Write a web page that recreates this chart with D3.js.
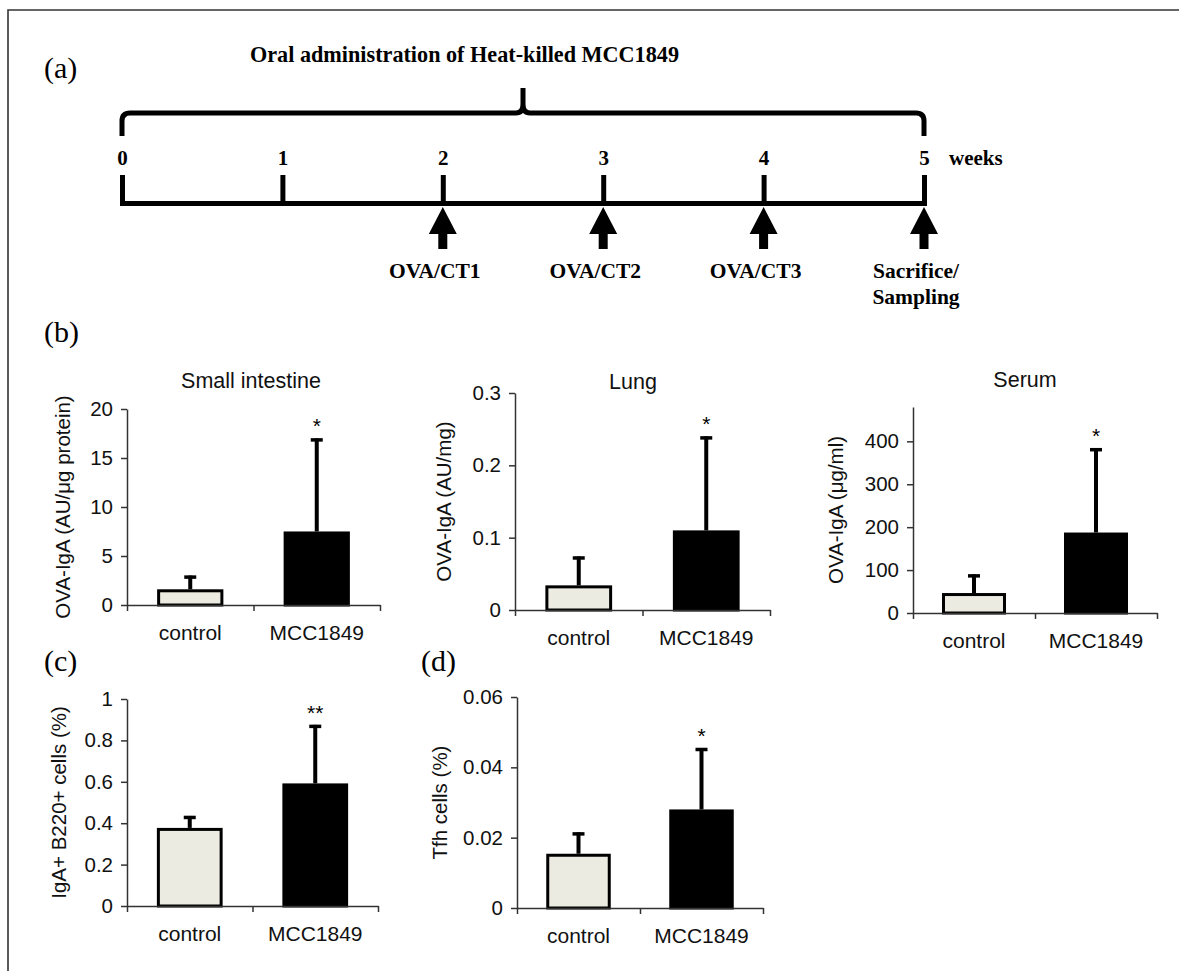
<!DOCTYPE html>
<html>
<head>
<meta charset="utf-8">
<script src="https://cdn.jsdelivr.net/npm/d3@7"></script>
<style>
  body { margin: 0; background: #fff; }
  svg { display: block; }
  .serif { font-family: "Liberation Serif", "Times New Roman", serif; }
  .sans { font-family: "Liberation Sans", Arial, sans-serif; }
</style>
</head>
<body>
<svg id="fig" width="1179" height="971"></svg>
<script>
// ── data ─────────────────────────────────────────────────────────
// (a) schedule
const weeks = [0, 1, 2, 3, 4, 5];
const eventWeeks = [2, 3, 4, 5];
const eventLabels = [["OVA/CT1"], ["OVA/CT2"], ["OVA/CT3"], ["Sacrifice/", "Sampling"]];

// (b)-(d) bar charts: mean and SD per group
const groups = ["control", "MCC1849"];

const intestineMean = [1.45, 7.35];
const intestineSD = [1.55, 9.65];
const intestineStars = ["", "*"];
const intestineTicks = [0, 5, 10, 15, 20];

const lungMean = [0.032, 0.108];
const lungSD = [0.042, 0.132];
const lungStars = ["", "*"];
const lungTicks = [0, 0.1, 0.2, 0.3];

const serumMean = [43, 184];
const serumSD = [47, 200];
const serumStars = ["", "*"];
const serumTicks = [0, 100, 200, 300, 400];

const igaB220Mean = [0.37, 0.585];
const igaB220SD = [0.065, 0.29];
const igaB220Stars = ["", "**"];
const igaB220Ticks = [0, 0.2, 0.4, 0.6, 0.8, 1];

const tfhMean = [0.015, 0.0276];
const tfhSD = [0.0065, 0.0179];
const tfhStars = ["", "*"];
const tfhTicks = [0, 0.02, 0.04, 0.06];

const svg = d3.select('#fig');

// frame (top + left rule)
svg.append('path')
    .attr('d', 'M8,971V10H1179')
    .attr('fill', 'none')
    .attr('stroke', '#333')
    .attr('stroke-width', 1.6);

// panel letters
const letters = [
    { t: '(a)', x: 44, y: 78 },
    { t: '(b)', x: 44, y: 342 },
    { t: '(c)', x: 44, y: 671 },
    { t: '(d)', x: 421, y: 671 }
];
svg.selectAll('text.letter')
    .data(letters)
    .enter()
    .append('text')
    .attr('class', 'letter serif')
    .attr('x', d => d.x)
    .attr('y', d => d.y)
    .attr('font-size', 30)
    .text(d => d.t);

// ── (a) timeline ─────────────────────────────────────────────────
const tx = d3.scaleLinear().domain([0, 5]).range([122, 924]);
const lineY = 203;

svg.append('text')
    .attr('class', 'serif')
    .attr('x', 250)
    .attr('y', 62)
    .attr('font-size', 22.5)
    .attr('font-weight', 'bold')
    .attr('textLength', 429)
    .attr('lengthAdjust', 'spacingAndGlyphs')
    .text('Oral administration of Heat-killed MCC1849');

// brace over the whole period
const mid = tx(2.5);
const bp = d3.path();
bp.moveTo(tx(0), 136);
bp.lineTo(tx(0), 121);
bp.quadraticCurveTo(tx(0), 113, tx(0) + 8, 113);
bp.lineTo(mid - 7, 113);
bp.quadraticCurveTo(mid, 113, mid, 104);
bp.lineTo(mid, 88);
bp.lineTo(mid, 104);
bp.quadraticCurveTo(mid, 113, mid + 7, 113);
bp.lineTo(tx(5) - 8, 113);
bp.quadraticCurveTo(tx(5), 113, tx(5), 121);
bp.lineTo(tx(5), 136);
svg.append('path')
    .attr('d', bp.toString())
    .attr('fill', 'none')
    .attr('stroke', '#000')
    .attr('stroke-width', 5);

// week axis
const weekAxis = svg.append('g')
    .attr('transform', `translate(0,${lineY})`)
    .call(d3.axisTop(tx).tickValues(weeks).tickSize(28).tickSizeOuter(0).tickPadding(10)
        .tickFormat(d3.format('d')));
weekAxis.select('.domain')
    .attr('stroke', '#000')
    .attr('stroke-width', 5)
    .attr('stroke-linecap', 'square');
weekAxis.selectAll('.tick line')
    .attr('stroke', '#000')
    .attr('stroke-width', 5);
weekAxis.selectAll('.tick text')
    .attr('class', 'serif')
    .attr('font-family', null)
    .attr('font-size', 21)
    .attr('font-weight', 'bold')
    .attr('fill', '#000');

svg.append('text')
    .attr('class', 'serif')
    .attr('x', tx(5) + 25)
    .attr('y', lineY - 38)
    .attr('font-size', 21)
    .attr('font-weight', 'bold')
    .text('weeks');

// arrows + labels
const arrows = svg.selectAll('g.event')
    .data(eventWeeks.map((w, i) => ({ w, lines: eventLabels[i] })))
    .enter()
    .append('g')
    .attr('class', 'event')
    .attr('transform', d => `translate(${tx(d.w)},0)`);

arrows.append('path')
    .attr('d', 'M0,207L14,234L4.5,234L4.5,249L-4.5,249L-4.5,234L-14,234Z')
    .attr('fill', '#000');

arrows.append('text')
    .attr('class', 'serif')
    .attr('x', -8)
    .attr('y', 278)
    .attr('font-size', 21.5)
    .attr('font-weight', 'bold')
    .attr('text-anchor', 'middle')
    .selectAll('tspan')
    .data(d => d.lines)
    .enter()
    .append('tspan')
    .attr('x', -8)
    .attr('dy', (d, i) => i === 0 ? 0 : 26)
    .text(d => d);

// ── (b)-(d) bar charts ───────────────────────────────────────────
const panels = [
    { mean: intestineMean, sd: intestineSD, stars: intestineStars, ticks: intestineTicks, max: 20,
      title: 'Small intestine', ylabel: 'OVA-IgA (AU/μg protein)',
      left: 127, right: 380, bottom: 605, top: 409, titleX: 251, titleY: 388, ylabelX: 63 },
    { mean: lungMean, sd: lungSD, stars: lungStars, ticks: lungTicks, max: 0.3,
      title: 'Lung', ylabel: 'OVA-IgA (AU/mg)',
      left: 515, right: 770, bottom: 610, top: 393, titleX: 633, titleY: 389, ylabelX: 444 },
    { mean: serumMean, sd: serumSD, stars: serumStars, ticks: serumTicks, max: 480,
      title: 'Serum', ylabel: 'OVA-IgA (μg/ml)',
      left: 913, right: 1157, bottom: 613, top: 407, titleX: 1025, titleY: 387, ylabelX: 836 },
    { mean: igaB220Mean, sd: igaB220SD, stars: igaB220Stars, ticks: igaB220Ticks, max: 1,
      title: '', ylabel: 'IgA+ B220+ cells (%)',
      left: 127, right: 378, bottom: 906, top: 699, titleX: 0, titleY: 0, ylabelX: 59 },
    { mean: tfhMean, sd: tfhSD, stars: tfhStars, ticks: tfhTicks, max: 0.06,
      title: '', ylabel: 'Tfh cells (%)',
      left: 517, right: 763, bottom: 908, top: 697, titleX: 0, titleY: 0, ylabelX: 440 }
];

panels.forEach(p => drawBars(p));

function drawBars(p) {
    const g = svg.append('g').attr('class', 'sans');

    const x = d3.scaleBand().domain(groups).range([p.left, p.right]).padding(0);
    const xb = d3.scaleLinear().domain([0, groups.length]).range([p.left, p.right]);
    const y = d3.scaleLinear().domain([0, p.max]).range([p.bottom, p.top]);
    const bw = x.bandwidth() * 0.5;

    const rows = groups.map((grp, i) => ({ grp, m: p.mean[i], s: p.sd[i], star: p.stars[i], i }));

    // bars
    g.selectAll('rect.bar')
        .data(rows)
        .enter()
        .append('rect')
        .attr('class', 'bar')
        .attr('x', d => x(d.grp) + bw / 2)
        .attr('width', bw)
        .attr('y', d => y(d.m))
        .attr('height', d => y(0) - y(d.m))
        .attr('fill', d => d.i === 0 ? '#ecebe1' : '#000')
        .attr('stroke', '#000')
        .attr('stroke-width', 3);

    // error bars (upper only)
    const cx = d => x(d.grp) + x.bandwidth() / 2;
    g.selectAll('line.err')
        .data(rows)
        .enter()
        .append('line')
        .attr('class', 'err')
        .attr('x1', cx).attr('x2', cx)
        .attr('y1', d => y(d.m) - 1.5)
        .attr('y2', d => y(d.m + d.s))
        .attr('stroke', '#000')
        .attr('stroke-width', 4);
    g.selectAll('line.cap')
        .data(rows)
        .enter()
        .append('line')
        .attr('class', 'cap')
        .attr('x1', d => cx(d) - 6).attr('x2', d => cx(d) + 6)
        .attr('y1', d => y(d.m + d.s) + 1.5)
        .attr('y2', d => y(d.m + d.s) + 1.5)
        .attr('stroke', '#000')
        .attr('stroke-width', 3.5);

    // significance marks
    g.selectAll('text.star')
        .data(rows.filter(d => d.star))
        .enter()
        .append('text')
        .attr('class', 'star')
        .attr('x', cx)
        .attr('y', d => y(d.m + d.s) - 5)
        .attr('text-anchor', 'middle')
        .attr('font-size', 21)
        .text(d => d.star);

    // y axis
    const ya = g.append('g')
        .attr('transform', `translate(${p.left},0)`)
        .call(d3.axisLeft(y).tickValues(p.ticks).tickSize(6).tickSizeOuter(0).tickPadding(8)
            .tickFormat(d => String(+d.toFixed(3))));

    // x axis: labels at band centres, ticks at band edges
    const xa = g.append('g')
        .attr('transform', `translate(0,${p.bottom})`)
        .call(d3.axisBottom(x).tickSize(0).tickPadding(20));
    const xt = g.append('g')
        .attr('transform', `translate(0,${p.bottom})`)
        .call(d3.axisBottom(xb).tickValues(d3.range(groups.length + 1)).tickSize(6).tickSizeOuter(0).tickFormat(''));
    xt.select('.domain').remove();

    [ya, xa, xt].forEach(a => {
        a.selectAll('.domain, .tick line').attr('stroke', '#333').attr('stroke-width', 1.5);
        a.selectAll('.tick text')
            .attr('font-family', null)
            .attr('font-size', 20.5)
            .attr('fill', '#111');
    });
    xa.selectAll('.tick text').attr('font-size', 21);

    if (p.title) {
        g.append('text')
            .attr('x', p.titleX)
            .attr('y', p.titleY)
            .attr('text-anchor', 'middle')
            .attr('font-size', 21.5)
            .attr('fill', '#111')
            .text(p.title);
    }

    g.append('text')
        .attr('transform', `translate(${p.ylabelX},${(p.top + p.bottom) / 2}) rotate(-90)`)
        .attr('text-anchor', 'middle')
        .attr('dy', '0.35em')
        .attr('font-size', 20.5)
        .attr('fill', '#111')
        .text(p.ylabel);
}
</script>
</body>
</html>
